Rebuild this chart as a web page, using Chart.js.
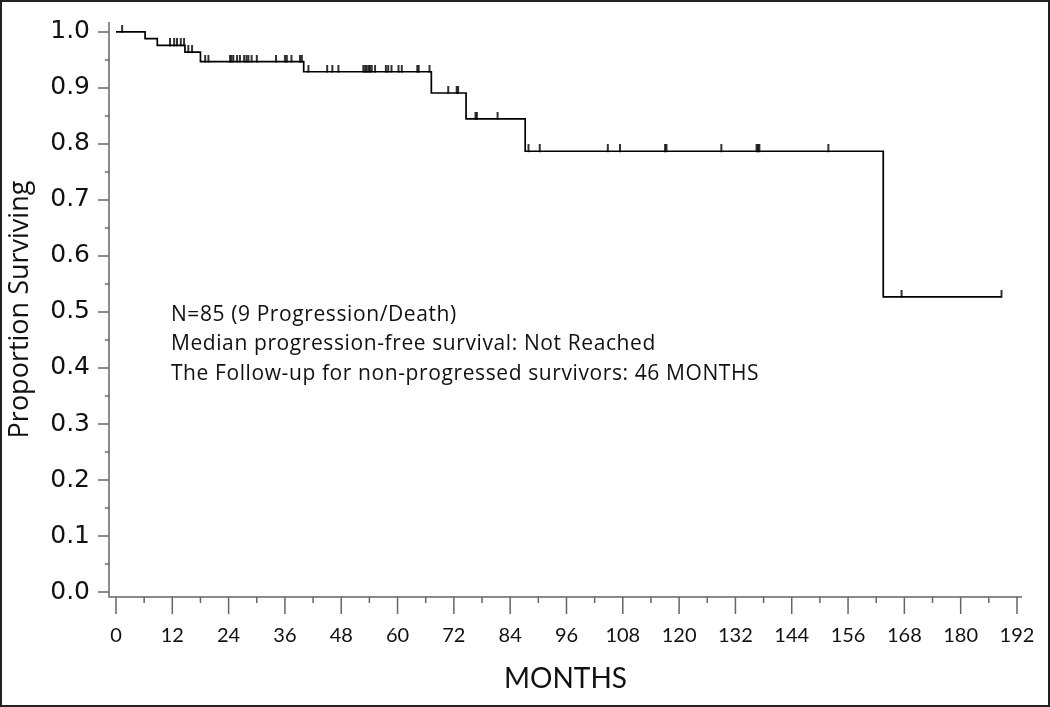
<!DOCTYPE html>
<html><head><meta charset="utf-8">
<script src="https://cdn.jsdelivr.net/npm/chart.js@4.4.0/dist/chart.umd.min.js"></script>
<style>html,body{margin:0;padding:0;background:#fff;overflow:hidden}#wrap{width:1050px;height:707px;position:relative}</style>
</head><body><div id="wrap"><canvas id="c" width="1050" height="707"></canvas></div>
<script>
// ---- data ----
const eventTimes = [6.2, 8.8, 14.7, 18.0, 40.0, 67.2, 74.6, 87.2, 163.5];
const survivalAtEvents = [0.988, 0.976, 0.964, 0.947, 0.929, 0.891, 0.845, 0.787, 0.527];
const lastFollowUp = 188.7;
const censorTimes = [1.3, 11.5, 12.4, 13.0, 13.8, 14.5, 15.4, 16.2, 19.0, 19.7,
  24.3, 24.6, 25.0, 25.8, 26.4, 27.3, 27.8, 28.2, 28.9, 30.0,
  34.1, 36.0, 36.4, 37.4, 39.2, 39.6, 41.0, 45.0, 46.1, 47.4,
  52.7, 53.1, 53.4, 53.8, 54.1, 54.5, 55.2, 57.5, 58.0, 58.7,
  60.2, 60.9, 64.2, 64.5, 66.8, 70.8, 72.6, 72.9, 76.6, 76.9,
  81.3, 87.9, 90.3, 104.8, 107.4, 117.0, 117.3, 129.0, 136.5, 136.8,
  137.1, 151.8, 167.4, 188.7];
const xTicks = [0,12,24,36,48,60,72,84,96,108,120,132,144,156,168,180,192];
const xMinorTicks = [6,18,30,42,54,66,78,90,102,114,126,138,150,162,174,186];
const yTicks = [0.0,0.1,0.2,0.3,0.4,0.5,0.6,0.7,0.8,0.9,1.0];
const yMinorTicks = [0.05,0.15,0.25,0.35,0.45,0.55,0.65,0.75,0.85,0.95];
const annotationLines = [
  'N=85 (9 Progression/Death)',
  'Median progression-free survival: Not Reached',
  'The Follow-up for non-progressed survivors: 46 MONTHS'
];
const xTitle = 'MONTHS';
const yTitle = 'Proportion Surviving';

// ---- derived ----
function survivalAt(t){
  let s = 1;
  for (let i=0;i<eventTimes.length;i++){ if (eventTimes[i] <= t) s = survivalAtEvents[i]; }
  return s;
}
const stepData = [{x:0,y:1}].concat(eventTimes.map((t,i)=>({x:t,y:survivalAtEvents[i]})), [{x:lastFollowUp,y:survivalAtEvents[survivalAtEvents.length-1]}]);
const censorData = censorTimes.map(t=>({x:t,y:survivalAt(t)}));

const tickH = 7;
const censorMark = document.createElement('canvas');
censorMark.width = 4; censorMark.height = tickH*2;
(function(){const g=censorMark.getContext('2d');g.fillStyle='#000';g.fillRect(1.2,0,1.6,tickH+0.8);})();

const AXIS_COLOR = '#666';
const axesPlugin = {
  id:'axesPlugin',
  beforeDatasetsDraw(chart){
    const {ctx, chartArea:ca, scales:{x,y}} = chart;
    ctx.save();
    ctx.strokeStyle = AXIS_COLOR; ctx.lineWidth = 1.5;
    ctx.beginPath();
    ctx.moveTo(ca.left, ca.top); ctx.lineTo(ca.left, ca.bottom); ctx.lineTo(ca.right, ca.bottom);
    yTicks.forEach(v=>{const p=y.getPixelForValue(v); ctx.moveTo(ca.left-11,p); ctx.lineTo(ca.left,p);});
    yMinorTicks.forEach(v=>{const p=y.getPixelForValue(v); ctx.moveTo(ca.left-4,p); ctx.lineTo(ca.left,p);});
    xTicks.forEach(v=>{const p=x.getPixelForValue(v); ctx.moveTo(p,ca.bottom); ctx.lineTo(p,ca.bottom+17);});
    xMinorTicks.forEach(v=>{const p=x.getPixelForValue(v); ctx.moveTo(p,ca.bottom); ctx.lineTo(p,ca.bottom+6);});
    ctx.stroke();
    // annotation
    ctx.fillStyle = '#111';
    ctx.font = '21px "Open Sans", Lato, sans-serif';
    ctx.letterSpacing = '0.6px';
    ctx.textBaseline = 'alphabetic';
    const ax = x.getPixelForValue(11.7);
    const ay0 = y.getPixelForValue(0.484);
    const dy = y.getPixelForValue(0.4315) - ay0;
    annotationLines.forEach((s,i)=>ctx.fillText(s, ax, ay0 + i*dy));
    ctx.restore();
  },
  afterDraw(chart){
    const ctx = chart.ctx;
    ctx.save(); ctx.strokeStyle='#222'; ctx.lineWidth=2; ctx.strokeRect(1,1,chart.width-2,chart.height-2); ctx.restore();
  }
};

new Chart(document.getElementById('c'), {
  type:'scatter',
  data:{datasets:[
    {data:stepData, showLine:true, stepped:'before', borderColor:'#000', borderWidth:1.7, pointRadius:0, fill:false},
    {data:censorData, showLine:false, pointStyle:censorMark, pointRadius:5, pointHoverRadius:5}
  ]},
  options:{
    responsive:false, animation:false, events:[],
    layout:{padding:{top:20,right:28,left:0,bottom:0}},
    plugins:{legend:{display:false}, tooltip:{enabled:false}},
    scales:{
      x:{type:'linear', min:-1.49, max:193.07,
        afterBuildTicks(s){ s.ticks = xTicks.map(v=>({value:v})); },
        afterFit(s){ s.height = 110; },
        grid:{display:false, drawTicks:true, tickLength:17}, border:{display:false},
        ticks:{color:'#111', padding:10, maxRotation:0, autoSkip:false, font:{family:'Lato,sans-serif', size:20}},
        title:{display:true, text:xTitle, color:'#111', padding:{top:0,bottom:11}, font:{family:'Lato,sans-serif', size:28}}
      },
      y:{type:'linear', min:-0.0089, max:1.0178,
        afterBuildTicks(s){ s.ticks = yTicks.map(v=>({value:v})); },
        afterFit(s){ s.width = 109; },
        grid:{display:false, drawTicks:true, tickLength:12}, border:{display:false},
        ticks:{color:'#111', padding:7, autoSkip:false, callback:v=>Number(v).toFixed(1), font:{family:'"DejaVu Sans",sans-serif', size:25}},
        title:{display:true, text:yTitle, color:'#111', padding:{top:4,bottom:0}, font:{family:'"Open Sans",sans-serif', size:27}}
      }
    }
  },
  plugins:[axesPlugin]
});
</script></body></html>
